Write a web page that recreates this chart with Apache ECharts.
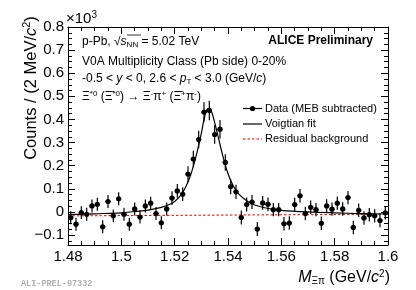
<!DOCTYPE html>
<html><head><meta charset="utf-8">
<script src="https://cdn.jsdelivr.net/npm/echarts@6/dist/echarts.min.js"></script>
<style>html,body{margin:0;padding:0;background:#fff}#c{width:416px;height:290px}</style>
</head><body><div id="c"></div>
<script>
// Bin centres (GeV/c^2)
const massBins = [1.481,1.483,1.485,1.487,1.489,1.491,1.493,1.495,1.497,1.499,
  1.501,1.503,1.505,1.507,1.509,1.511,1.513,1.515,1.517,1.519,
  1.521,1.523,1.525,1.527,1.529,1.531,1.533,1.535,1.537,1.539,
  1.541,1.543,1.545,1.547,1.549,1.551,1.553,1.555,1.557,1.559,
  1.561,1.563,1.565,1.567,1.569,1.571,1.573,1.575,1.577,1.579,
  1.581,1.583,1.585,1.587,1.589,1.591,1.593,1.595,1.597,1.599];
// Counts (x10^3)
const counts = [-0.025,-0.053,-0.003,-0.010,0.026,0.033,-0.064,0.045,-0.017,0.057,
  -0.010,-0.053,0.013,-0.022,0.026,0.038,-0.007,-0.047,0.013,0.060,
  0.091,0.077,0.164,0.229,0.313,0.432,0.439,0.335,0.358,0.214,
  0.110,0.087,-0.024,0.032,0.043,-0.074,0.039,0.033,0.010,0.010,
  -0.051,-0.048,0.032,0.070,-0.007,0.020,0.010,-0.049,0.026,0.012,
  0.038,0.013,0.062,-0.067,0.007,-0.026,-0.012,-0.017,-0.037,-0.004];
const errors = [0.028,0.028,0.028,0.028,0.028,0.028,0.028,0.028,0.028,0.028,
  0.028,0.028,0.028,0.028,0.028,0.028,0.028,0.028,0.028,0.030,
  0.030,0.030,0.034,0.036,0.038,0.042,0.042,0.040,0.040,0.036,
  0.033,0.031,0.030,0.030,0.030,0.030,0.030,0.030,0.029,0.029,
  0.029,0.029,0.029,0.029,0.029,0.029,0.029,0.029,0.029,0.029,
  0.029,0.029,0.029,0.029,0.029,0.029,0.029,0.029,0.029,0.029];
// Voigtian fit curve
const fitMass = [1.480,1.490,1.500,1.505,1.510,1.515,1.518,1.520,1.522,1.524,1.526,1.528,1.530,1.531,1.532,1.533,1.534,1.536,1.538,1.540,1.542,1.544,1.547,1.550,1.555,1.560,1.570,1.580,1.590,1.600];
const fitCounts = [-0.012,-0.008,-0.004,0.002,0.008,0.020,0.032,0.045,0.068,0.105,0.160,0.240,0.340,0.400,0.440,0.448,0.428,0.340,0.245,0.165,0.112,0.078,0.048,0.030,0.015,0.007,0.000,-0.004,-0.007,-0.009];
// Residual background
const bkgMass = [1.48, 1.60];
const bkgCounts = [-0.017, -0.010];

const FONT = "'Liberation Sans', Arial, sans-serif";
const chart = echarts.init(document.getElementById('c'), null, {renderer:'canvas'});

const xMin = 1.48, xMax = 1.6, yMin = -0.143, yMax = 0.8;
function xFmt(v){ return String(parseFloat(v.toFixed(3))); }
function yFmt(v){ const s = String(parseFloat(v.toFixed(2))); return s.replace('-', '\u2212'); }

const axisCommon = {
  axisLine:{show:true, onZero:false, lineStyle:{color:'#000', width:1}},
  axisTick:{show:true, inside:true, length:7, lineStyle:{color:'#000', width:1}},
  minorTick:{show:true, splitNumber:4, length:4, lineStyle:{color:'#000', width:1}},
  splitLine:{show:false}
};

const richBase = (fs) => ({
  n:{fontSize:fs, fontFamily:FONT, color:'#000'},
  i:{fontSize:fs, fontFamily:FONT, fontStyle:'italic', color:'#000'},
  sub:{fontSize:Math.round(fs*0.65), fontFamily:FONT, color:'#000', padding:[Math.round(fs*0.45),0,0,0]},
  sup:{fontSize:Math.round(fs*0.65), fontFamily:FONT, color:'#000', padding:[0,0,Math.round(fs*0.5),0]}
});

function txt(x, y, str, fs, extra){
  return Object.assign({type:'text', x:x, y:y, style:{text:str, rich:richBase(fs), font: fs+'px '+FONT, fill:'#000', textAlign:'left', textVerticalAlign:'middle'}}, extra||{});
}

const graphics = [
  // x10^3
  txt(66, 19, '{n|\u00d710}{sup|3}', 15),
  // y title
  {type:'text', x:31, y:88, rotation:Math.PI/2, style:{text:'{n|Counts / (2 MeV/}{i|c}{sup|2}{n|)}', rich:richBase(16.5), textAlign:'center', textVerticalAlign:'middle'}},
  // x title
  {type:'text', x:390, y:278, style:{text:'{i|M}{sub|\u039e\u03c0}{n| (GeV/}{i|c}{sup|2}{n|)}', rich:richBase(16), textAlign:'right', textVerticalAlign:'middle'}},
  // info text
  txt(82, 42, '{n|p-Pb, \u221a}{i|s}{sub|NN}{n| = 5.02 TeV}', 12),
  txt(82, 62, '{n|V0A Multiplicity Class (Pb side) 0-20%}', 12),
  txt(82, 79, '{n|-0.5 < }{i|y}{n| < 0, 2.6 < }{i|p}{sub|T}{n| < 3.0 (GeV/}{i|c}{n|)}', 12),
  txt(82, 97, '{n|\u039e}{sup|*0}{n| (\u039e\u0304}{sup|*0}{n|) \u2192 \u039e}{sup|-}{n|\u03c0}{sup|+}{n| (\u039e\u0304}{sup|+}{n|\u03c0}{sup|-}{n|)}', 12),
  {type:'line', shape:{x1:127, y1:35, x2:141, y2:35}, style:{stroke:'#000', lineWidth:0.8}},
  {type:'text', x:373, y:41, style:{text:'ALICE Preliminary', font:'bold 12px '+FONT, fill:'#000', textAlign:'right', textVerticalAlign:'middle'}},
  // legend
  {type:'line', shape:{x1:243, y1:108.5, x2:262, y2:108.5}, style:{stroke:'#000', lineWidth:1.2}},
  {type:'circle', shape:{cx:252.5, cy:108.5, r:2.6}, style:{fill:'#000'}},
  {type:'text', x:265, y:108.5, style:{text:'Data (MEB subtracted)', font:'11px '+FONT, fill:'#000', textAlign:'left', textVerticalAlign:'middle'}},
  {type:'line', shape:{x1:243, y1:124, x2:262, y2:124}, style:{stroke:'#000', lineWidth:1.2}},
  {type:'text', x:265, y:124, style:{text:'Voigtian fit', font:'11px '+FONT, fill:'#000', textAlign:'left', textVerticalAlign:'middle'}},
  {type:'line', shape:{x1:243, y1:139, x2:262, y2:139}, style:{stroke:'#e00000', lineWidth:1, lineDash:[2.5,2]}},
  {type:'text', x:265, y:139, style:{text:'Residual background', font:'11px '+FONT, fill:'#000', textAlign:'left', textVerticalAlign:'middle'}},
  // watermark
  {type:'text', x:21, y:284, style:{text:'ALI-PREL-97332', font:'bold 8.5px "Liberation Mono", monospace', fill:'#b0b0b0', textAlign:'left', textVerticalAlign:'middle'}}
];

const option = {
  animation:false,
  backgroundColor:'#fff',
  grid:{left:68, top:27, width:320, height:218, containLabel:false},
  xAxis:[
    Object.assign({type:'value', min:xMin, max:xMax, interval:0.02, position:'bottom',
      axisLabel:{show:true, formatter:xFmt, fontSize:15, fontFamily:FONT, color:'#000', margin:4, showMinLabel:true, showMaxLabel:true}}, axisCommon),
    Object.assign({type:'value', min:xMin, max:xMax, interval:0.02, position:'top',
      axisLabel:{show:false}}, axisCommon)
  ],
  yAxis:[
    Object.assign({type:'value', min:yMin, max:yMax, splitNumber:9, position:'left',
      axisLabel:{show:true, formatter:yFmt, fontSize:15, fontFamily:FONT, color:'#000', margin:4, showMinLabel:false}}, axisCommon),
    Object.assign({type:'value', min:yMin, max:yMax, splitNumber:9, position:'right',
      axisLabel:{show:false}}, axisCommon)
  ],
  series:[
    {type:'line', xAxisIndex:0, yAxisIndex:0, data:bkgMass.map((m,i)=>[m,bkgCounts[i]]), symbol:'none',
      lineStyle:{color:'#e00000', width:1, type:[2.5,2]}, z:2},
    {type:'line', xAxisIndex:0, yAxisIndex:0, data:fitMass.map((m,i)=>[m,fitCounts[i]]), symbol:'none', smooth:0.35,
      lineStyle:{color:'#000', width:1.2}, z:3},
    {type:'custom', xAxisIndex:0, yAxisIndex:0, clip:true, z:4,
      data:massBins.map((m,i)=>[m, counts[i], errors[i]]),
      renderItem:function(params, api){
        const x = api.value(0), y = api.value(1), e = api.value(2);
        const c = api.coord([x,y]);
        const t = api.coord([x,y+e]);
        const b = api.coord([x,y-e]);
        const l = api.coord([x-0.001,y]);
        const r = api.coord([x+0.001,y]);
        return {type:'group', children:[
          {type:'line', shape:{x1:c[0], y1:t[1], x2:c[0], y2:b[1]}, style:{stroke:'#000', lineWidth:1.2}},
          {type:'line', shape:{x1:l[0], y1:c[1], x2:r[0], y2:c[1]}, style:{stroke:'#000', lineWidth:1.2}},
          {type:'circle', shape:{cx:c[0], cy:c[1], r:2.6}, style:{fill:'#000'}}
        ]};
      }
    }
  ],
  graphic:graphics
};
chart.setOption(option);
</script>
</body></html>
